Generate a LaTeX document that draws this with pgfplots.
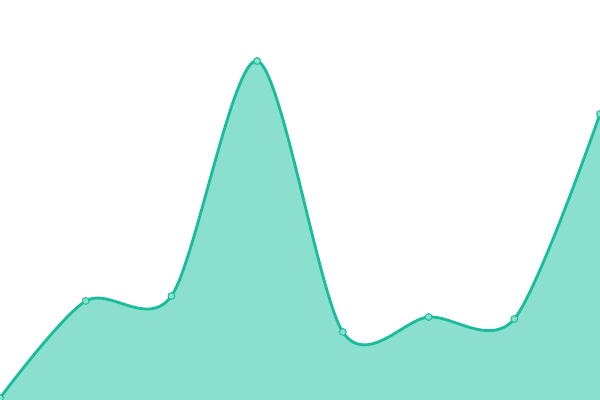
\documentclass[border=0pt]{standalone}
\usepackage{pgfplots}
\pgfplotsset{compat=1.18}
\definecolor{turq}{HTML}{1ABC9C}
\definecolor{turqfill}{HTML}{8BDFCF}
\begin{document}
\begin{tikzpicture}
\begin{axis}[
  at={(0,0)}, anchor=south west,
  scale only axis, width=15cm, height=10cm,
  axis lines=none, xmin=0, xmax=7, ymin=0, ymax=400,
  clip=false,
]
\addplot[draw=none, fill=turqfill, smooth, tension=0.5] coordinates {
 (0,2) (1,99) (2,104) (3,339) (4,68) (5,83) (6,81) (7,286)} \closedcycle;
\addplot[turq, line width=2pt, smooth, tension=0.5, mark=*, mark options={fill=turqfill, draw=turq, line width=0.7pt, scale=1.2}] coordinates {
 (0,2) (1,99) (2,104) (3,339) (4,68) (5,83) (6,81) (7,286)};
\end{axis}
\pgfresetboundingbox
\path[use as bounding box] (0,0) rectangle (15cm,10cm);
\end{tikzpicture}
\end{document}
